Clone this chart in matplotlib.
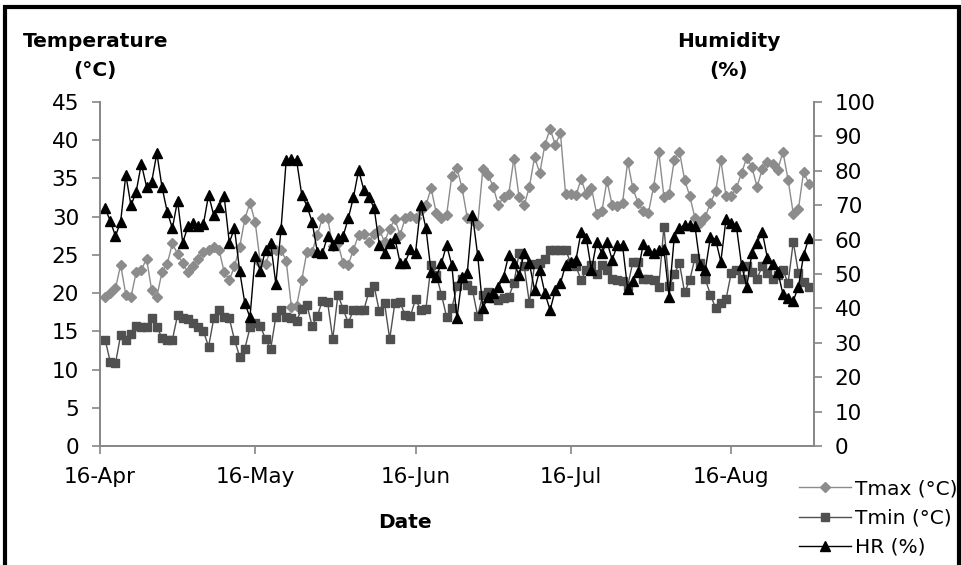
import matplotlib
matplotlib.use("Agg")
import matplotlib.pyplot as plt
import matplotlib.dates as mdates
from matplotlib.patches import Rectangle
import pandas as pd

start_date = "2010-04-17"

tmax = [19.5, 20.0, 20.6, 23.7, 19.8, 19.5, 22.7, 23.0, 24.5, 20.4, 19.5, 22.8, 23.8, 26.5, 25.1, 23.9,
        22.7, 23.6, 24.5, 25.4, 25.7, 26.0, 25.7,
        22.8, 21.7, 23.5, 26.0, 29.7, 31.8, 29.3, 23.9, 23.8, 25.7, 25.7, 25.7, 24.2, 18.2, 18.3, 21.7,
        25.4, 25.4, 27.6, 29.8, 29.8, 26.1, 26.5,
        23.9, 23.7, 25.7, 27.6, 27.7, 26.7, 27.7, 28.3, 26.7, 28.4, 29.7, 27.6, 29.8, 30.1, 29.8, 30.9,
        31.5, 33.7, 30.5, 29.8, 30.2, 35.3, 36.3,
        33.7, 29.8, 29.6, 28.9, 36.2, 35.5, 33.9, 31.5, 32.6, 32.9, 37.6, 32.6, 31.5, 33.9, 37.8, 35.7,
        39.4, 41.5, 39.4, 40.9, 32.9, 32.9, 32.8,
        34.9, 32.9, 33.7, 30.4, 30.7, 34.7, 31.5, 31.4, 31.8, 37.2, 33.7, 31.8, 30.8, 30.5, 33.9, 38.5,
        32.6, 33.0, 37.4, 38.5, 34.8, 32.7, 29.8, 29.2, 30.0, 31.8, 33.3, 37.4, 32.7, 32.7, 33.7, 35.7,
        37.7, 36.5, 33.9, 36.2, 37.2, 36.9, 36.1, 38.5, 34.8, 30.4, 31.0, 35.9, 34.3]

tmin = [13.9, 11.0, 10.8, 14.5, 13.9, 14.7, 15.7, 15.6, 15.6, 16.8, 15.6, 14.1, 13.9, 13.9, 17.1, 16.8,
        16.6, 16.1, 15.6, 15.0, 13.0, 16.7, 17.8,
        16.9, 16.7, 13.9, 11.7, 12.7, 15.5, 16.1, 15.7, 14.0, 12.7, 16.9, 17.8, 16.9, 16.7, 16.4, 17.9,
        18.5, 15.7, 17.0, 19.0, 18.8, 14.0, 19.8,
        17.9, 16.1, 17.8, 17.8, 17.8, 20.2, 20.9, 17.6, 18.7, 14.0, 18.7, 18.8, 17.1, 17.0, 19.2, 17.8, 17.9,
        23.7, 22.4, 19.8, 16.9, 18.0, 20.9, 21.9, 21.0, 20.4, 17.0, 19.8, 20.1, 19.3, 19.1, 19.3, 19.5,
        21.3, 25.2, 23.5, 18.7, 23.8, 23.9, 24.5, 25.7, 25.7, 25.7, 25.7, 23.9, 23.5, 21.7, 23.0, 23.7, 22.5,
        23.7, 23.0, 21.8, 21.7, 21.6, 20.9, 24.1, 24.1, 21.9, 21.8, 21.7, 20.8, 28.7, 20.9, 22.5, 23.9,
        20.1, 21.7, 24.6, 23.9, 21.8, 19.8, 18.0, 18.7, 19.2, 22.6, 23.0, 21.8, 23.5, 22.8, 21.9, 23.5,
        22.6, 21.8, 22.3, 23.0, 21.3, 26.7, 22.6, 21.5, 20.8, 20.8]

hr = [69.1, 65.4, 61.0, 65.2, 78.8, 69.9, 73.9, 82.0, 75.4, 76.8, 85.1, 75.2, 68.1, 63.3, 71.3, 59.1,
      63.8, 64.7, 64.0, 64.5, 73.0, 67.0, 69.6,
      72.7, 59.1, 63.3, 50.9, 41.5, 37.4, 55.3, 50.9, 57.0, 58.9, 47.1, 63.1, 83.1, 83.3, 83.1, 73.0,
      69.8, 65.2, 56.5, 56.0, 61.0, 58.4, 60.4,
      61.0, 66.2, 72.3, 80.2, 74.4, 72.3, 69.1, 58.4, 56.2, 58.9, 60.4, 53.3, 53.3, 57.2, 56.2, 70.1, 63.3,
      50.7, 49.2, 53.1, 58.4, 52.6, 37.1, 49.2, 50.4, 67.2, 55.5, 40.0, 43.4, 44.4, 46.3, 49.2, 55.5,
      53.1, 49.7, 56.2, 53.1, 45.3, 51.2, 44.4, 39.5, 45.3, 47.3, 52.6, 53.5, 54.1, 62.3, 60.4, 51.2,
      59.4, 56.0, 59.4, 54.1, 58.4, 58.4, 45.5, 48.0, 50.7, 58.7, 57.0, 56.2, 57.0, 57.2, 43.4, 60.8,
      63.3, 64.2, 64.2, 63.9, 52.6, 51.2, 60.8, 59.9, 53.6, 65.9, 64.9, 63.9, 52.6, 46.3, 56.0, 59.1,
      62.3, 54.6, 52.9, 50.7, 44.2, 42.9, 42.2, 46.3, 55.5, 60.4, 55.0]

n = min(len(tmax), len(tmin), len(hr))
dates = pd.date_range(start_date, periods=n, freq="D")

temp_ticks = list(range(0, 50, 5))
hum_ticks = list(range(0, 110, 10))

plt.rcParams["font.family"] = ["DejaVu Sans"]

fig = plt.figure(figsize=(9.61, 5.65), dpi=100)
ax = fig.add_axes([0.104, 0.2106, 0.743, 0.609])
ax2 = ax.twinx()

grey_axis = "#868686"
l1, = ax.plot(dates, tmax[:n], color="#8c8c8c", lw=1.0, marker="D", ms=5.0,
              mfc="#8c8c8c", mec="#8c8c8c", label="Tmax (°C)")
l2, = ax.plot(dates, tmin[:n], color="#505050", lw=1.0, marker="s", ms=6.0,
              mfc="#505050", mec="#505050", label="Tmin (°C)")
l3, = ax2.plot(dates, hr[:n], color="black", lw=1.0, marker="^", ms=7.0,
               mfc="black", mec="black", label="HR (%)")

ax.set_ylim(0, 45)
ax.set_yticks(temp_ticks)
ax2.set_ylim(0, 100)
ax2.set_yticks(hum_ticks)

ax.set_xlim(pd.Timestamp("2010-04-16"), pd.Timestamp("2010-09-01"))
ax.xaxis.set_major_locator(mdates.MonthLocator(bymonthday=16))
ax.xaxis.set_major_formatter(mdates.DateFormatter("%d-%b"))

for a in (ax, ax2):
    a.spines["top"].set_visible(False)
    for s in ("left", "right", "bottom"):
        a.spines[s].set_color(grey_axis)
        a.spines[s].set_linewidth(1.2)
    a.tick_params(colors=grey_axis, labelcolor="black", labelsize=15.5, length=6, width=1.2,
                  direction="out")
ax.tick_params(axis="y", pad=9)
ax.tick_params(axis="x", pad=9)
ax2.tick_params(axis="y", pad=9)

fig.text(0.099, 0.927, "Temperature", ha="center", va="center", fontsize=14.5, fontweight="bold")
fig.text(0.099, 0.876, "(°C)", ha="center", va="center", fontsize=14.5, fontweight="bold")
fig.text(0.7586, 0.927, "Humidity", ha="center", va="center", fontsize=14.5, fontweight="bold")
fig.text(0.7586, 0.876, "(%)", ha="center", va="center", fontsize=14.5, fontweight="bold")
fig.text(0.421, 0.076, "Date", ha="center", va="center", fontsize=14.5, fontweight="bold")

fig.legend(handles=[l1, l2, l3], loc="center left", bbox_to_anchor=(0.823, 0.083),
           frameon=False, fontsize=14.5, handlelength=2.6, handletextpad=0.2,
           labelspacing=0.5, borderaxespad=0)

fig.add_artist(Rectangle((0.0055, -0.02), 0.992, 1.008, transform=fig.transFigure,
                         fill=False, lw=3, ec="black"))

fig.savefig("out.png", dpi=100)
